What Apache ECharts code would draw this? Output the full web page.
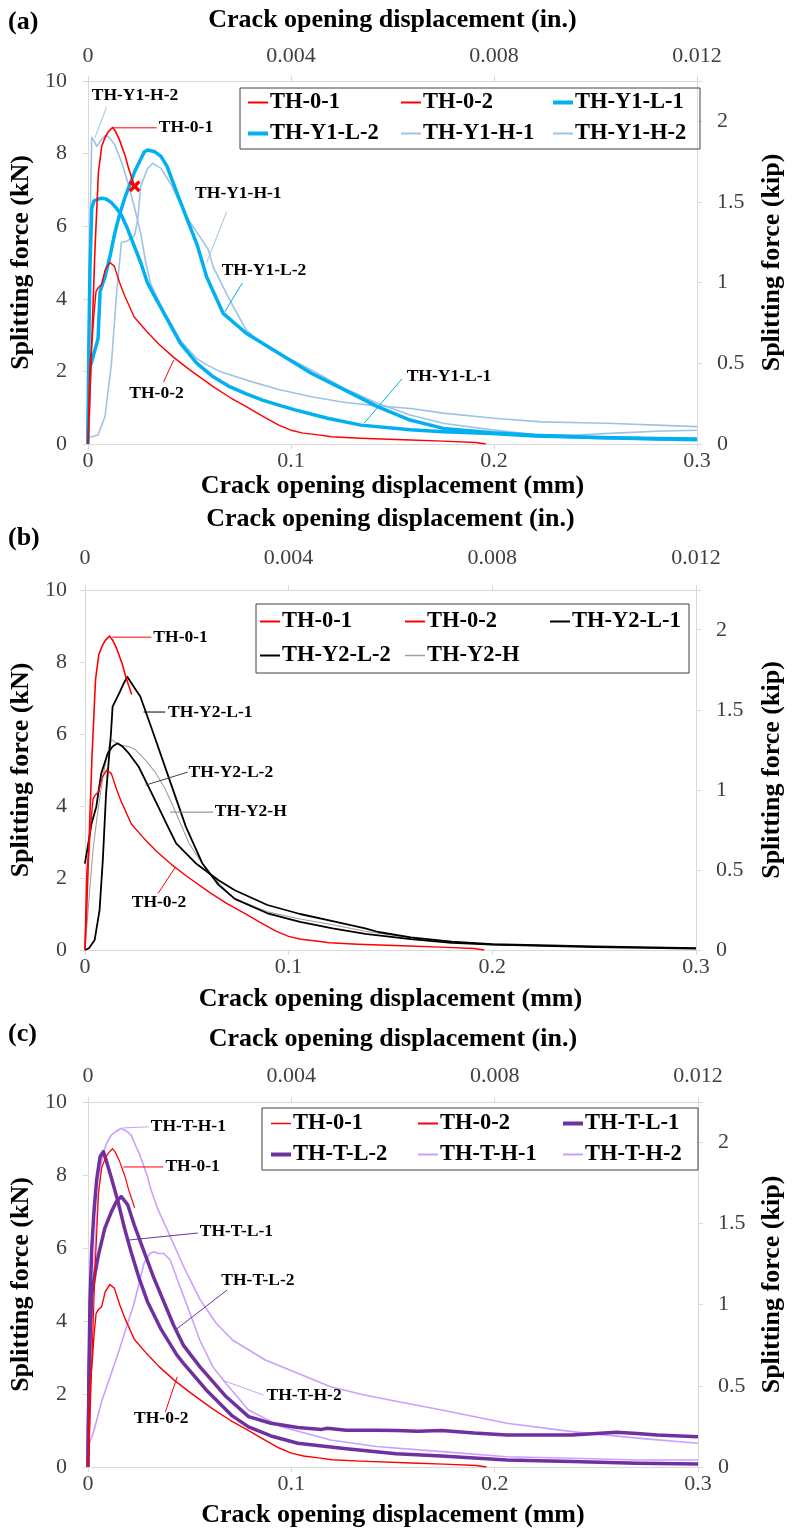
<!DOCTYPE html>
<html><head><meta charset="utf-8">
<script src="https://cdn.jsdelivr.net/npm/echarts@6/dist/echarts.min.js"></script>
<style>html,body{margin:0;padding:0;background:#fff}#c{width:793px;height:1536px}</style>
</head><body><div id="c"></div>
<script>
// ---------- data (x: crack opening displacement, mm ; y: splitting force, kN) ----------
const TH_0_1 = [[0,0],[0.0008,1.0],[0.0016,2.3],[0.0025,3.8],[0.0035,5.4],[0.0044,6.5],[0.0052,7.5],[0.0068,8.2],[0.0085,8.45],[0.010,8.6],[0.0121,8.72],[0.0135,8.62],[0.0154,8.4],[0.017,8.15],[0.0183,7.95],[0.020,7.6],[0.0215,7.35],[0.023,7.1]];
const TH_0_2 = [[0,0],[0.0005,1.2],[0.001,2.2],[0.002,2.8],[0.003,3.6],[0.004,4.2],[0.005,4.3],[0.0068,4.4],[0.0085,4.8],[0.0108,5.0],[0.013,4.9],[0.0156,4.45],[0.018,4.1],[0.0228,3.5],[0.029,3.1],[0.035,2.75],[0.0424,2.38],[0.05,2.05],[0.0617,1.58],[0.07,1.28],[0.078,1.03],[0.086,0.77],[0.094,0.52],[0.1,0.38],[0.106,0.3],[0.1135,0.25],[0.12,0.2],[0.134,0.16],[0.159,0.11],[0.175,0.08],[0.191,0.04],[0.196,0.0]];

const TH_Y1_L_1 = [[0,0],[0.0004,2.5],[0.001,4.8],[0.0019,6.5],[0.003,6.7],[0.005,6.75],[0.0068,6.77],[0.009,6.75],[0.0116,6.65],[0.014,6.5],[0.0165,6.3],[0.019,6.0],[0.0213,5.67],[0.026,5.0],[0.0294,4.43],[0.0335,4.0],[0.0375,3.6],[0.0456,2.77],[0.0537,2.22],[0.0617,1.85],[0.0698,1.58],[0.078,1.38],[0.086,1.21],[0.094,1.07],[0.102,0.94],[0.118,0.71],[0.1345,0.52],[0.1587,0.39],[0.175,0.34],[0.199,0.29],[0.22,0.22],[0.25,0.18],[0.28,0.15],[0.3,0.14]];
const TH_Y1_L_2 = [[0,0],[0.0005,1.5],[0.001,2.1],[0.003,2.5],[0.005,2.9],[0.006,4.2],[0.0084,4.6],[0.011,5.2],[0.0132,5.8],[0.0155,6.3],[0.0181,6.77],[0.023,7.5],[0.0278,8.05],[0.0294,8.1],[0.033,8.05],[0.0359,7.93],[0.039,7.65],[0.044,6.9],[0.0488,6.2],[0.0537,5.5],[0.0585,4.6],[0.0666,3.6],[0.078,3.05],[0.094,2.5],[0.110,1.95],[0.1264,1.49],[0.1426,1.03],[0.1587,0.66],[0.175,0.43],[0.199,0.31],[0.22,0.24],[0.25,0.18],[0.28,0.14],[0.3,0.12]];
const TH_Y1_H_1 = [[0,0.2],[0.002,0.2],[0.005,0.25],[0.0084,0.75],[0.0116,2.22],[0.014,4.06],[0.0165,5.55],[0.0197,5.6],[0.023,5.75],[0.0246,6.2],[0.026,7.1],[0.0294,7.59],[0.0319,7.73],[0.0359,7.6],[0.041,7.15],[0.0456,6.6],[0.0504,6.1],[0.0553,5.7],[0.0594,5.34],[0.0617,4.88],[0.0698,3.97],[0.078,3.14],[0.086,2.75],[0.094,2.5],[0.110,2.04],[0.1264,1.53],[0.1426,1.12],[0.1587,0.8],[0.175,0.57],[0.199,0.39],[0.22,0.26],[0.24,0.25],[0.26,0.3],[0.28,0.35],[0.3,0.38]];
const TH_Y1_H_2 = [[0,0],[0.0005,3.0],[0.0012,6.5],[0.0019,8.45],[0.003,8.35],[0.0044,8.2],[0.0062,8.35],[0.0085,8.5],[0.0105,8.45],[0.0132,8.24],[0.0165,7.78],[0.0197,7.2],[0.023,6.5],[0.026,5.8],[0.0285,5.0],[0.031,4.4],[0.0375,3.65],[0.0456,2.85],[0.0537,2.35],[0.0585,2.18],[0.065,2.0],[0.078,1.76],[0.094,1.5],[0.110,1.3],[0.126,1.15],[0.1426,1.05],[0.159,0.98],[0.175,0.85],[0.2,0.71],[0.2234,0.61],[0.2555,0.57],[0.28,0.52],[0.3,0.48]];

const TH_Y2_L_1 = [[0,0],[0.002,0.05],[0.0048,0.28],[0.0072,1.11],[0.0088,2.5],[0.0104,4.35],[0.0128,6.02],[0.0136,6.76],[0.0168,7.13],[0.019,7.4],[0.0208,7.59],[0.024,7.31],[0.0272,7.04],[0.0336,6.02],[0.0416,4.72],[0.0496,3.42],[0.0576,2.41],[0.0656,1.81],[0.0736,1.42],[0.0896,1.02],[0.1056,0.78],[0.1216,0.6],[0.1376,0.45],[0.16,0.3],[0.18,0.2],[0.2,0.15],[0.25,0.08],[0.3,0.04]];
const TH_Y2_L_2 = [[0,2.4],[0.0015,2.9],[0.0032,3.5],[0.0056,3.98],[0.008,4.9],[0.0112,5.46],[0.0136,5.65],[0.016,5.74],[0.0185,5.65],[0.0216,5.46],[0.0264,5.09],[0.0312,4.54],[0.036,3.98],[0.0408,3.42],[0.0448,2.96],[0.0544,2.41],[0.0656,1.94],[0.0736,1.66],[0.0896,1.25],[0.1056,1.0],[0.1216,0.8],[0.1376,0.6],[0.144,0.5],[0.16,0.35],[0.18,0.23],[0.2,0.16],[0.25,0.1],[0.3,0.05]];
const TH_Y2_H = [[0,0],[0.002,1.4],[0.004,2.8],[0.006,3.7],[0.008,4.5],[0.0104,5.3],[0.0125,5.8],[0.0136,5.83],[0.016,5.72],[0.0185,5.68],[0.0216,5.65],[0.0248,5.56],[0.0296,5.28],[0.0344,4.95],[0.0392,4.5],[0.044,3.9],[0.0512,2.95],[0.0608,2.13],[0.0736,1.42],[0.0896,1.06],[0.1056,0.86],[0.1216,0.7],[0.1376,0.52],[0.16,0.34],[0.18,0.23],[0.2,0.16]];

const TH_T_L_1 = [[0,0],[0.0005,2.5],[0.001,4.5],[0.0019,6.0],[0.003,7.0],[0.0043,7.86],[0.006,8.5],[0.0076,8.64],[0.009,8.4],[0.0116,7.91],[0.0148,7.27],[0.018,6.54],[0.0212,5.9],[0.0252,5.17],[0.0293,4.53],[0.0357,3.8],[0.0437,3.07],[0.047,2.84],[0.0582,2.11],[0.071,1.4],[0.079,1.1],[0.09,0.85],[0.1032,0.65],[0.127,0.5],[0.1418,0.42],[0.1515,0.36],[0.174,0.3],[0.206,0.19],[0.238,0.15],[0.27,0.1],[0.3,0.08]];
const TH_T_L_2 = [[0,0],[0.0005,2.0],[0.001,3.5],[0.0019,4.71],[0.0035,5.3],[0.0052,5.81],[0.0083,6.54],[0.0116,7.0],[0.014,7.27],[0.0164,7.41],[0.0196,7.18],[0.0228,6.63],[0.0276,5.9],[0.0325,5.17],[0.0373,4.53],[0.0421,3.89],[0.0469,3.34],[0.055,2.75],[0.0679,1.93],[0.079,1.38],[0.09,1.2],[0.1032,1.08],[0.115,1.03],[0.1177,1.06],[0.127,1.01],[0.1418,1.01],[0.1515,1.0],[0.1622,0.98],[0.174,1.0],[0.19,0.93],[0.206,0.88],[0.238,0.88],[0.26,0.95],[0.27,0.92],[0.28,0.88],[0.3,0.83]];
const TH_T_H_1 = [[0,0],[0.0005,1.0],[0.001,2.4],[0.002,4.3],[0.0035,6.0],[0.005,7.4],[0.0068,8.4],[0.009,8.85],[0.0116,9.1],[0.014,9.2],[0.0164,9.28],[0.019,9.2],[0.0212,9.1],[0.0235,8.8],[0.0252,8.6],[0.0293,7.95],[0.031,7.6],[0.0341,7.1],[0.039,6.5],[0.047,5.5],[0.055,4.6],[0.0631,3.94],[0.0711,3.48],[0.0872,2.93],[0.1032,2.57],[0.1193,2.2],[0.1354,1.98],[0.1515,1.8],[0.174,1.56],[0.206,1.2],[0.238,0.97],[0.27,0.79],[0.3,0.65]];
const TH_T_H_2 = [[0,0.1],[0.0005,0.6],[0.001,0.65],[0.003,1.0],[0.0068,1.8],[0.0148,3.1],[0.0228,4.5],[0.0277,5.6],[0.0305,5.85],[0.0325,5.9],[0.0345,5.85],[0.0373,5.85],[0.0405,5.67],[0.0453,4.94],[0.0502,4.21],[0.055,3.48],[0.0614,2.75],[0.0679,2.29],[0.079,1.56],[0.0952,1.1],[0.1193,0.74],[0.1418,0.56],[0.174,0.42],[0.206,0.28],[0.238,0.24],[0.27,0.19],[0.3,0.19]];

// axis tick values
const xTicksMM = [0, 0.1, 0.2, 0.3];
const xTicksIN = [0, 0.004, 0.008, 0.012];
const yTicksKN = [0, 2, 4, 6, 8, 10];
const yTicksKIP = [0, 0.5, 1, 1.5, 2];
const KN_PER_KIP = 4.448;

// annotations (data coords): text anchor (left-middle) and leader line
const annA = [
  {t:'TH-Y1-H-2', c:'#9dc3e6', tx:0.0019, ty:9.61, l:[[0.0092,9.28],[0.0034,8.43]]},
  {t:'TH-0-1', c:'#ff0000', tx:0.0349, ty:8.71, l:[[0.0121,8.71],[0.0339,8.71]]},
  {t:'TH-Y1-H-1', c:'#9dc3e6', tx:0.0528, ty:6.89, l:[[0.0683,6.39],[0.0586,5.01]]},
  {t:'TH-Y1-L-2', c:'#00b0f0', tx:0.0659, ty:4.79, l:[[0.0761,4.44],[0.0674,3.64]]},
  {t:'TH-Y1-L-1', c:'#00b0f0', tx:0.157, ty:1.85, l:[[0.1546,1.79],[0.1362,0.58]]},
  {t:'TH-0-2', c:'#ff0000', tx:0.0204, ty:1.38, l:[[0.0422,2.31],[0.0373,1.71]]}
];
const annB = [
  {t:'TH-0-1', c:'#ff0000', tx:0.0336, ty:8.69, l:[[0.0134,8.69],[0.0326,8.69]]},
  {t:'TH-Y2-L-1', c:'#000000', tx:0.0408, ty:6.61, l:[[0.0288,6.61],[0.0394,6.61]]},
  {t:'TH-Y2-L-2', c:'#404040', tx:0.0509, ty:4.92, l:[[0.0298,4.58],[0.0504,4.94]]},
  {t:'TH-Y2-H', c:'#808080', tx:0.0638, ty:3.86, l:[[0.0418,3.83],[0.0629,3.83]]},
  {t:'TH-0-2', c:'#ff0000', tx:0.023, ty:1.33, l:[[0.036,1.58],[0.0442,2.28]]}
];
const annC = [
  {t:'TH-T-H-1', c:'#c9a0ff', tx:0.0309, ty:9.32, l:[[0.0174,9.29],[0.0299,9.32]]},
  {t:'TH-0-1', c:'#ff0000', tx:0.0381, ty:8.22, l:[[0.0174,8.22],[0.0371,8.22]]},
  {t:'TH-T-L-1', c:'#7030a0', tx:0.055, ty:6.44, l:[[0.0203,6.22],[0.054,6.41]]},
  {t:'TH-T-L-2', c:'#7030a0', tx:0.0656, ty:5.12, l:[[0.0685,4.85],[0.0429,3.75]]},
  {t:'TH-T-H-2', c:'#c9a0ff', tx:0.0878, ty:1.97, l:[[0.0661,2.38],[0.0863,1.97]]},
  {t:'TH-0-2', c:'#ff0000', tx:0.0227, ty:1.34, l:[[0.0381,1.51],[0.0439,2.47]]}
];

// ---------- styling / layout ----------
const FONT = '"Liberation Serif","Times New Roman",serif';
const AX = '#d9d9d9';
const RED = '#ff0000', BLUE = '#00b0f0', LBLUE = '#9dc3e6', BLACK = '#000000', GRAY = '#a0a0a0', PURPLE = '#7030a0', LPURPLE = '#c9a0ff';

const panels = [
  {grid:{left:86, top:81, width:619, height:363}, topGap:48, topMargin:14, botGap:28, botMargin:6, leftGap:43, leftMargin:21, rightGap:62, rightMargin:20,
   series:[
     ['TH-Y1-H-1', TH_Y1_H_1, LBLUE, 1.6], ['TH-Y1-H-2', TH_Y1_H_2, LBLUE, 1.6],
     ['TH-Y1-L-1', TH_Y1_L_1, BLUE, 3.5], ['TH-Y1-L-2', TH_Y1_L_2, BLUE, 3.5],
     ['TH-0-2', TH_0_2, RED, 1.4], ['TH-0-1', TH_0_1, RED, 1.6]],
   legendRows:[[['TH-0-1',RED,2,248],['TH-0-2',RED,2,401],['TH-Y1-L-1',BLUE,4,553]],
               [['TH-Y1-L-2',BLUE,4,248],['TH-Y1-H-1',LBLUE,2,401],['TH-Y1-H-2',LBLUE,2,553]]],
   rowY:[103,134], box:[240,88,460,61], ann:annA},
  {grid:{left:80, top:590, width:625, height:360}, topGap:58, topMargin:21, botGap:36, botMargin:6, leftGap:42, leftMargin:18, rightGap:63, rightMargin:20,
   series:[
     ['TH-Y2-H', TH_Y2_H, GRAY, 1.1], ['TH-Y2-L-2', TH_Y2_L_2, BLACK, 1.8], ['TH-Y2-L-1', TH_Y2_L_1, BLACK, 1.8],
     ['TH-0-2', TH_0_2, RED, 1.4], ['TH-0-1', TH_0_1, RED, 1.6]],
   legendRows:[[['TH-0-1',RED,2,260],['TH-0-2',RED,2,405],['TH-Y2-L-1',BLACK,2,550]],
               [['TH-Y2-L-2',BLACK,2,260],['TH-Y2-H',GRAY,1.5,405]]],
   rowY:[622,656], box:[256,604,433,69], ann:annB},
  {grid:{left:86, top:1102, width:622, height:365}, topGap:50, topMargin:15, botGap:35, botMargin:6, leftGap:44, leftMargin:21, rightGap:61, rightMargin:20,
   series:[
     ['TH-T-H-1', TH_T_H_1, LPURPLE, 1.6], ['TH-T-H-2', TH_T_H_2, LPURPLE, 1.6],
     ['TH-T-L-1', TH_T_L_1, PURPLE, 3.5], ['TH-T-L-2', TH_T_L_2, PURPLE, 3.5],
     ['TH-0-2', TH_0_2, RED, 1.4], ['TH-0-1', TH_0_1, RED, 1.2]],
   legendRows:[[['TH-0-1',RED,1.5,271],['TH-0-2',RED,2,418],['TH-T-L-1',PURPLE,4,563]],
               [['TH-T-L-2',PURPLE,4,271],['TH-T-H-1',LPURPLE,2,418],['TH-T-H-2',LPURPLE,2,563]]],
   rowY:[1124,1155], box:[262,1108,436,62], ann:annC}
];

const labelStyle = {fontFamily:FONT, fontSize:22, color:'#404040'};
const nameStyle = {fontFamily:FONT, fontSize:26, fontWeight:'bold', color:'#000'};
function baseAxis(extra){
  return Object.assign({
    type:'value',
    axisLine:{show:true, onZero:false, lineStyle:{color:AX, width:1}},
    axisTick:{show:true, inside:false, length:5, lineStyle:{color:AX}},
    splitLine:{show:false},
    nameLocation:'middle',
    nameTextStyle:nameStyle
  }, extra);
}
const fmtTick = (ticks) => (v) => {
  for (const t of ticks) if (Math.abs(v - t) < 1e-9) return String(t);
  return '';
};

const option = {animation:false, backgroundColor:'#fff', grid:[], xAxis:[], yAxis:[], series:[], legend:[]};
panels.forEach((P, p) => {
  option.grid.push(Object.assign({containLabel:false}, P.grid));
  option.xAxis.push(baseAxis({gridIndex:p, position:'bottom', min:xTicksMM[0], max:xTicksMM[xTicksMM.length-1], interval:0.1,
    name:'Crack opening displacement (mm)', nameGap:P.botGap,
    axisLabel:Object.assign({margin:P.botMargin, formatter:fmtTick(xTicksMM)}, labelStyle)}));
  option.xAxis.push(baseAxis({gridIndex:p, position:'top', min:xTicksIN[0], max:xTicksIN[xTicksIN.length-1], interval:0.004,
    name:'Crack opening displacement (in.)', nameGap:P.topGap,
    axisLabel:Object.assign({margin:P.topMargin, formatter:fmtTick(xTicksIN)}, labelStyle)}));
  option.yAxis.push(baseAxis({gridIndex:p, position:'left', min:yTicksKN[0], max:yTicksKN[yTicksKN.length-1], interval:2,
    name:'Splitting force (kN)', nameGap:P.leftGap, nameRotate:90,
    axisLabel:Object.assign({margin:P.leftMargin, formatter:fmtTick(yTicksKN)}, labelStyle)}));
  option.yAxis.push(baseAxis({gridIndex:p, position:'right', min:0, max:yTicksKN[yTicksKN.length-1]/KN_PER_KIP, interval:0.5,
    name:'Splitting force (kip)', nameGap:P.rightGap, nameRotate:90,
    axisLabel:Object.assign({margin:P.rightMargin, formatter:fmtTick(yTicksKIP)}, labelStyle)}));
  P.series.forEach(([name, data, color, w]) => {
    const s = {type:'line', name, data, xAxisIndex:2*p, yAxisIndex:2*p, symbol:'none', showSymbol:false,
      smooth:false, clip:true, color, itemStyle:{color}, lineStyle:{color, width:w, join:'round'}, emphasis:{disabled:true}};
    if (p === 0 && name === 'TH-0-1') {
      s.markPoint = {symbol:'path://M2,0 L5,3 L8,0 L10,2 L7,5 L10,8 L8,10 L5,7 L2,10 L0,8 L3,5 L0,2 Z',
        symbolSize:12, itemStyle:{color:RED}, label:{show:false},
        data:[{coord:data[data.length-1]}]};
    }
    option.series.push(s);
  });
  P.legendRows.forEach((row, r) => row.forEach(([name, color, h, left]) => {
    option.legend.push({show:true, left, top:P.rowY[r]-12, padding:0, itemGap:0, itemWidth:20, itemHeight:h,
      icon:'rect', selectedMode:false, data:[{name, icon:'rect', itemStyle:{color}}],
      textStyle:{fontFamily:FONT, fontSize:22.5, fontWeight:'bold', color:'#000', padding:[0,0,0,-3]}});
  }));
});

const chart = echarts.init(document.getElementById('c'), null, {renderer:'canvas'});
chart.setOption(option);

// graphics: legend frames, panel letters, annotations
const els = [];
panels.forEach((P, p) => {
  const [bx, by, bw, bh] = P.box;
  els.push({type:'rect', shape:{x:bx, y:by, width:bw, height:bh}, style:{fill:'none', stroke:'#404040', lineWidth:1}, silent:true, z:10});
  const f = {xAxisIndex:2*p, yAxisIndex:2*p};
  P.ann.forEach(a => {
    const p1 = chart.convertToPixel(f, a.l[0]), p2 = chart.convertToPixel(f, a.l[1]);
    const tp = chart.convertToPixel(f, [a.tx, a.ty]);
    els.push({type:'line', shape:{x1:p1[0], y1:p1[1], x2:p2[0], y2:p2[1]}, style:{stroke:a.c, lineWidth:1}, silent:true, z:10});
    els.push({type:'text', x:tp[0], y:tp[1], silent:true, z:11,
      style:{text:a.t, fill:'#000', fontFamily:FONT, fontSize:17.5, fontWeight:'bold', align:'left', verticalAlign:'middle'}});
  });
});
[['(a)', 22], ['(b)', 538], ['(c)', 1034]].forEach(([t, y]) => {
  els.push({type:'text', x:8, y, silent:true, style:{text:t, fill:'#000', fontFamily:FONT, fontSize:26, fontWeight:'bold', align:'left', verticalAlign:'middle'}});
});
chart.setOption({graphic:{elements:els}});
</script>
</body></html>
